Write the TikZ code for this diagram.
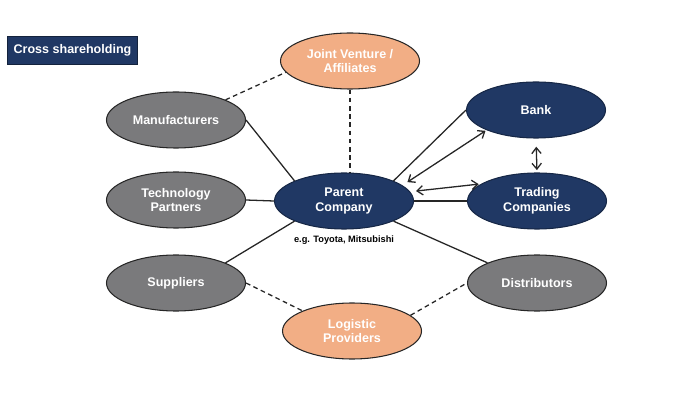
\documentclass[tikz,border=0pt]{standalone}
\usepackage{xcolor}
\usepackage{fontspec}
\setmainfont{Liberation Sans}
\usetikzlibrary{shapes,arrows.meta,positioning,calc}

\definecolor{navy}{HTML}{203864}
\definecolor{slate}{HTML}{7A7A7C}
\definecolor{peach}{HTML}{F2AE85}
\definecolor{rim}{HTML}{262626}

\begin{document}
\begin{tikzpicture}[x=0.03cm, y=-0.03cm,
    party/.style={ellipse, draw=rim, line width=0.9pt, minimum width=4.17cm, minimum height=1.68cm,
        inner sep=0pt, align=center, text=white, font=\fontsize{10.7}{12.7}\selectfont\bfseries},
    core/.style={party, fill=navy, draw=navy!70!black},
    side/.style={party, fill=slate},
    soft/.style={party, fill=peach},
    link/.style={line width=1.1pt, black!85},
    loose/.style={link, dashed, dash pattern=on 4pt off 3pt},
    both/.style={link, {Straight Barb[length=5pt,width=8pt]}-{Straight Barb[length=5pt,width=8pt]}}]
    \useasboundingbox (0,0) rectangle (700,400);

    % title box
    \node[fill=navy, draw=navy!60!black, minimum width=3.9cm, minimum height=0.84cm, inner sep=0pt,
        text=white, font=\fontsize{10.7}{12.7}\selectfont\bfseries] (title) at (72.5,50) {Cross shareholding};

    % partners
    \node[soft] (jv) at (350,61) {Joint Venture /\\Affiliates};
    \node[side] (man) at (176,120) {Manufacturers};
    \node[side] (tech) at (176,200) {Technology\\Partners};
    \node[side] (sup) at (176,283) {Suppliers};
    \node[core] (parent) at (344,201) {Parent\\Company};
    \node[font=\fontsize{7.9}{9}\selectfont\bfseries] (eg) at (344,240) {e.g. Toyota, Mitsubishi};
    \node[core] (bank) at (536,110) {Bank};
    \node[core] (trade) at (537,201) {Trading\\Companies};
    \node[side] (dist) at (537,283) {Distributors};
    \node[soft] (log) at (352,331) {Logistic\\Providers};

    % solid links
    \draw[link] (man.east) -- (parent.north west);
    \draw[link] (tech.east) -- (parent.west);
    \draw[link] (sup.north east) -- (parent.south west);
    \draw[link] (parent.south east) -- (dist.north west);
    \draw[link] (parent.north east) -- (bank.west);
    \draw[link] (parent.east) -- (trade.west);

    % dashed links
    \draw[loose] (man.north east) -- (jv.190);
    \draw[loose] (jv.south) -- (jv.south |- parent.north);
    \draw[loose] (sup.east) -- (log.north west);
    \draw[loose] (log.15) -- (dist.west);

    % two-way arrows
    \draw[both, shorten <=1pt, shorten >=5pt] (bank.south west) -- (parent.15);
    \draw[both, shorten <=2pt, shorten >=5pt] (trade.163) -- (parent.8);
    \draw[both, shorten <=7pt, shorten >=2pt] (bank.south) -- (trade.north);
\end{tikzpicture}
\end{document}
